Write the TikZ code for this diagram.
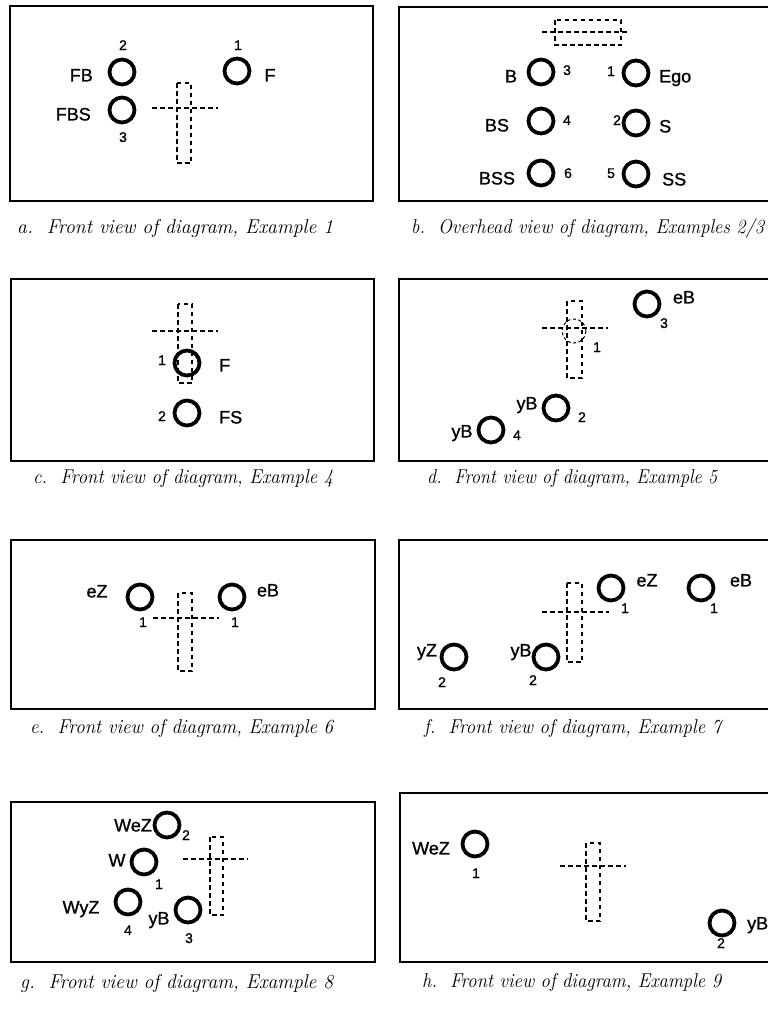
\documentclass[tikz,border=0pt]{standalone}
\usepackage{fontspec}
\usepackage{graphicx}
\newfontfamily\labfont[FakeBold=1]{Liberation Sans}
\newcommand{\capbox}[2]{\resizebox{#1pt}{\height}{\itshape\fontsize{20}{22}\selectfont #2}}
\begin{document}
\begin{tikzpicture}[x=1pt,y=-1pt,
  ring/.style={circle,draw,line width=3.8pt,minimum size=25pt,inner sep=0pt},
  lab/.style={font=\labfont\fontsize{18}{20}\selectfont,inner sep=0pt,text height=12.9pt,text depth=0pt},
  num/.style={font=\labfont\fontsize{14}{16}\selectfont,inner sep=0pt,text height=10pt,text depth=0pt},
  capt/.style={inner sep=0pt,anchor=base west},
  frame/.style={line width=1.8pt},
  dsh/.style={line width=1.2pt,dash pattern=on 4.5pt off 3.5pt}]
\useasboundingbox (0,0) rectangle (768,1009);

% ---------- panel a ----------
\draw[frame] (10,6) rectangle (373,201);
\node[ring] (aFB) at (122,72) {};
\node[ring] (aFBS) at (122,110) {};
\node[ring] (aF) at (237,71) {};
\node[lab,anchor=east] (aFBl) at (93,75) {FB};
\node[lab,anchor=east] (aFBSl) at (91,114) {FBS};
\node[lab] (aFl) at (270,75) {F};
\node[num] (a2) at (123,45) {2};
\node[num] (a3) at (123,137) {3};
\node[num] (a1) at (238,45) {1};
\draw[dsh] (177,83) rectangle (191,163);
\draw[dsh] (152,108) -- (218,108);
\node[capt] (acap) at (17,233) {\capbox{316}{a.\ \ Front view of diagram, Example 1}};

% ---------- panel b ----------
\draw[frame] (768,7) -- (399,7) -- (399,201) -- (768,201);
\draw[dsh] (555,20) rectangle (621,45);
\draw[dsh] (542,32) -- (630,32);
\node[ring] (bB) at (541,72) {};
\node[ring] (bE) at (636,73) {};
\node[ring] (bBS) at (541,121) {};
\node[ring] (bS) at (636,123) {};
\node[ring] (bBSS) at (541,173) {};
\node[ring] (bSS) at (636,174) {};
\node[lab] (bBl) at (511,76) {B};
\node[lab,anchor=west] (bEl) at (659,76) {Ego};
\node[lab] (bBSl) at (497,125) {BS};
\node[lab,anchor=west] (bSl) at (659,126) {S};
\node[lab] (bBSSl) at (497,178) {BSS};
\node[lab,anchor=west] (bSSl) at (662,179) {SS};
\node[num] (b3) at (567,70) {3};
\node[num] (b1) at (611,71) {1};
\node[num] (b4) at (567,120) {4};
\node[num] (b2) at (617,120) {2};
\node[num] (b6) at (568,173) {6};
\node[num] (b5) at (611,173) {5};
\node[capt] (bcap) at (411,233) {\capbox{353}{b.\ \ Overhead view of diagram, Examples 2/3}};

% ---------- panel c ----------
\draw[frame] (11,279) rectangle (374,461);
\draw[dsh] (178,304) rectangle (192,383);
\draw[dsh] (152,331) -- (218,331);
\node[ring] (cF) at (187,363) {};
\node[ring] (cFS) at (187,413) {};
\node[num] (c1) at (162,360) {1};
\node[num] (c2) at (162,416) {2};
\node[lab,anchor=west] (cFl) at (219,365) {F};
\node[lab,anchor=west] (cFSl) at (219,417) {FS};
\node[capt] (ccap) at (33,483) {\capbox{300}{c.\ \ Front view of diagram, Example 4}};

% ---------- panel d ----------
\draw[frame] (768,279) -- (399,279) -- (399,461) -- (768,461);
\draw[dsh] (567,301) rectangle (582,378);
\draw[dsh] (542,328) -- (608,328);
\draw[line width=1pt,dash pattern=on 3pt off 2.5pt] (574,331) circle (12);
\node[num] (d1) at (597,347) {1};
\node[ring] (deB) at (647,304) {};
\node[lab] (deBl) at (684,297) {eB};
\node[num] (d3) at (664,323) {3};
\node[ring] (dyB2) at (556,408) {};
\node[lab] (dyB2l) at (527,403) {yB};
\node[num] (d2) at (582,417) {2};
\node[ring] (dyB4) at (491,430) {};
\node[lab] (dyB4l) at (462,431) {yB};
\node[num] (d4) at (517,435) {4};
\node[capt] (dcap) at (427,483) {\capbox{290}{d.\ \ Front view of diagram, Example 5}};

% ---------- panel e ----------
\draw[frame] (11,540) rectangle (375,709);
\draw[dsh] (178,593) rectangle (192,671);
\draw[dsh] (153,618) -- (219,618);
\node[ring] (eZ) at (140,597) {};
\node[lab] (eZl) at (97,591) {eZ};
\node[num] (e1a) at (143,622) {1};
\node[ring] (eB) at (232,597) {};
\node[lab] (eBl) at (268,590) {eB};
\node[num] (e1b) at (235,622) {1};
\node[capt] (ecap) at (30,733) {\capbox{303}{e.\ \ Front view of diagram, Example 6}};

% ---------- panel f ----------
\draw[frame] (768,540) -- (399,540) -- (399,709) -- (768,709);
\draw[dsh] (567,583) rectangle (582,662);
\draw[dsh] (542,612) -- (609,612);
\node[ring] (feZ) at (611,588) {};
\node[lab] (feZl) at (647,580) {eZ};
\node[num] (f1a) at (625,608) {1};
\node[ring] (feB) at (701,588) {};
\node[lab] (feBl) at (741,580) {eB};
\node[num] (f1b) at (714,608) {1};
\node[ring] (fyZ) at (454,657) {};
\node[lab] (fyZl) at (427,650) {yZ};
\node[num] (f2a) at (442,682) {2};
\node[ring] (fyB) at (546,657) {};
\node[lab] (fyBl) at (521,650) {yB};
\node[num] (f2b) at (533,680) {2};
\node[capt] (fcap) at (424,733) {\capbox{297}{f.\ \ Front view of diagram, Example 7}};

% ---------- panel g ----------
\draw[frame] (11,802) rectangle (375,962);
\draw[dsh] (210,837) rectangle (223,915);
\draw[dsh] (183,859) -- (248,859);
\node[ring] (gWeZ) at (167,825) {};
\node[lab] (gWeZl) at (133,825) {WeZ};
\node[num] (g2) at (186,835) {2};
\node[ring] (gW) at (144,862) {};
\node[lab] (gWl) at (117,860) {W};
\node[num] (g1) at (159,884) {1};
\node[ring] (gWyZ) at (128,902) {};
\node[lab] (gWyZl) at (81,907) {WyZ};
\node[num] (g4) at (128,930) {4};
\node[ring] (gyB) at (188,910) {};
\node[lab] (gyBl) at (159,918) {yB};
\node[num] (g3) at (189,938) {3};
\node[capt] (gcap) at (20,988) {\capbox{313}{g.\ \ Front view of diagram, Example 8}};

% ---------- panel h ----------
\draw[frame] (768,793) -- (400,793) -- (400,962) -- (768,962);
\draw[dsh] (586,843) rectangle (600,921);
\draw[dsh] (560,866) -- (626,866);
\node[ring] (hWeZ) at (475,844) {};
\node[lab] (hWeZl) at (431,848) {WeZ};
\node[num] (h1) at (476,873) {1};
\node[ring] (hyB) at (722,923) {};
\node[lab,anchor=west] (hyBl) at (747,923) {yB};
\node[num] (h2) at (721,943) {2};
\node[capt] (hcap) at (422,987) {\capbox{299}{h.\ \ Front view of diagram, Example 9}};
\end{tikzpicture}
\end{document}
